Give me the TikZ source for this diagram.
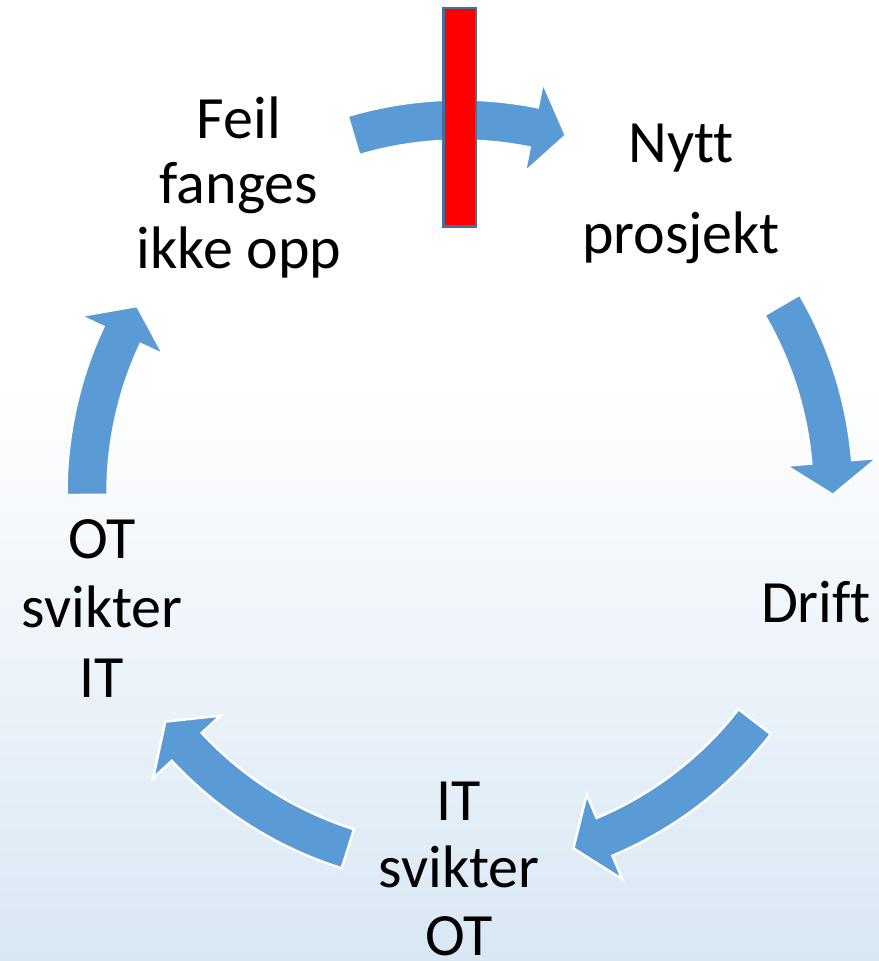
\documentclass[tikz,border=0pt]{standalone}
\usepackage{fontspec}
\setmainfont{Carlito}[Ligatures=NoCommon]
\definecolor{arrowblue}{RGB}{91,155,213}
\definecolor{bgblue}{RGB}{217,231,244}
\definecolor{barline}{RGB}{65,113,156}
\definecolor{barred}{RGB}{255,0,0}

\tikzset{
  cyclearrow/.style={fill=arrowblue, draw=white, line width=2.5bp, line join=miter},
  lbl/.style={font=\fontsize{60bp}{66bp}\selectfont, align=center, inner sep=0pt, anchor=base, text=black},
  stopbar/.style={fill=barred, draw=barline, line width=2.5bp}
}

% curved block arrow on the cycle, running clockwise from tail angle #1 to tip angle #2
\newcommand\cyclearrow[2]{%
  \pgfmathsetmacro\headbase{#2+5.1}%
  \filldraw[cyclearrow]
    (#1:352.5) -- (#1:393.5)
    arc[start angle=#1, end angle=\headbase, radius=393.5]
    -- (\headbase:419) -- (#2:373) -- (\headbase:327) -- (\headbase:352.5)
    arc[start angle=\headbase, end angle=#1, radius=352.5] -- cycle;
}

\begin{document}
\begin{tikzpicture}[x=1bp, y=1bp]
  \useasboundingbox (0,0) rectangle (879,-961);

  % background: white fading into light blue towards the bottom
  \fill[white] (0,0) rectangle (879,-961);
  \shade[top color=white, bottom color=bgblue] (0,-380) rectangle (879,-961);

  % the five arrows of the cycle
  \begin{scope}[shift={(460,-493)}]
    \cyclearrow{106.6}{73.5}
    \cyclearrow{30.3}{-0.3}
    \cyclearrow{-37.8}{-72.3}
    \cyclearrow{-107.5}{-142.2}
    \cyclearrow{180.3}{149.9}
  \end{scope}

  % red bar breaking the cycle
  \filldraw[stopbar] (443.5,-8) rectangle (476,-226.5);

  % stage labels (each placed by the baseline of its last line)
  \node[lbl, font=\fontsize{60bp}{65bp}\selectfont] (feil) at (239,-268) {Feil\\fanges\\ikke opp};
  \node[lbl] (nytt) at (681,-253) {Nytt\\[25bp]prosjekt};
  \node[lbl] (drift) at (816,-622) {Drift};
  \node[lbl, font=\fontsize{60bp}{67.5bp}\selectfont] (itot) at (459,-955) {IT\\svikter\\OT};
  \node[lbl, font=\fontsize{60bp}{69.5bp}\selectfont] (otit) at (102,-697) {OT\\svikter\\IT};
\end{tikzpicture}
\end{document}
